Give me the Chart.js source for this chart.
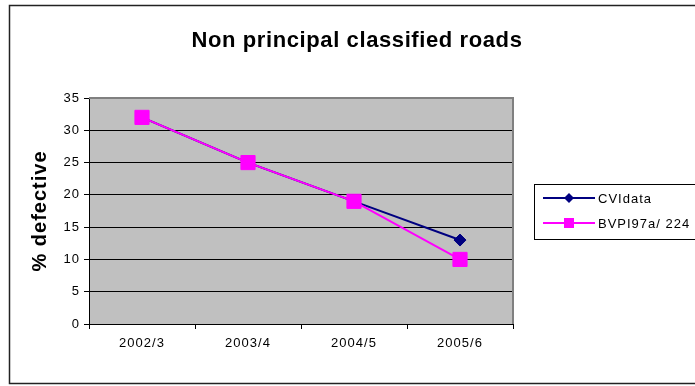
<!DOCTYPE html>
<html>
<head>
<meta charset="utf-8">
<script src="https://cdn.jsdelivr.net/npm/chart.js@4/dist/chart.umd.min.js"></script>
<style>
  html, body { margin: 0; padding: 0; background: #ffffff; }
  #wrap { width: 695px; height: 386px; position: relative; }
</style>
</head>
<body>
<div id="wrap"><canvas id="c" width="695" height="386"></canvas></div>
<script>
// Share of non principal classified roads found defective, by survey year
const categories = ['2002/3', '2003/4', '2004/5', '2005/6'];
const cviData = [32, 25, 19, 13];
const bvpiData = [32, 25, 19, 10];
const seriesNames = ['CVIdata', 'BVPI97a/ 224'];
const yTicks = [0, 5, 10, 15, 20, 25, 30, 35];

const chartTitle = 'Non principal classified roads';
const yTitle = '% defective';

const FONT = '"Liberation Sans", Arial, sans-serif';
const NAVY = '#000080';
const MAGENTA = '#FF00FF';

// Slightly spaced lettering for all canvas text
const spacing = {
  id: 'spacing',
  beforeLayout(chart) { chart.ctx.letterSpacing = '1px'; },
  beforeDraw(chart) { chart.ctx.letterSpacing = '1px'; }
};

// Grey plot background and outer frame
const frame = {
  id: 'frame',
  beforeDraw(chart) {
    const { ctx, chartArea: a } = chart;
    ctx.save();
    ctx.fillStyle = '#ffffff';
    ctx.fillRect(0, 0, chart.width, chart.height);
    ctx.fillStyle = '#C0C0C0';
    ctx.fillRect(a.left, a.top, a.right - a.left, a.bottom - a.top);
    ctx.strokeStyle = '#222222';
    ctx.lineWidth = 1.5;
    ctx.strokeRect(9.5, 5.5, chart.width + 10, 378);
    ctx.restore();
  },
  beforeDatasetsDraw(chart) {
    const { ctx, chartArea: a } = chart;
    ctx.save();
    ctx.strokeStyle = '#808080';
    ctx.lineWidth = 2;
    ctx.beginPath();
    ctx.moveTo(a.left, a.top);
    ctx.lineTo(a.right, a.top);
    ctx.lineTo(a.right, a.bottom);
    ctx.stroke();
    ctx.restore();
  },
  afterDraw(chart) {
    const { ctx } = chart;
    ctx.save();
    ctx.letterSpacing = '0.6px';
    ctx.fillStyle = '#000000';
    ctx.font = 'bold 22px ' + FONT;
    ctx.textAlign = 'center';
    ctx.textBaseline = 'middle';
    ctx.fillText(chartTitle, 357, 41);
    ctx.restore();
  }
};

// Boxed legend at the right of the plot
const boxLegend = {
  id: 'boxLegend',
  afterDraw(chart) {
    const { ctx } = chart;
    const x0 = 534, y0 = 184, h = 55;
    ctx.save();
    ctx.strokeStyle = '#000000';
    ctx.lineWidth = 1;
    ctx.strokeRect(x0 + 0.5, y0 + 0.5, chart.width, h);
    const rows = [198, 223];
    chart.data.datasets.forEach((ds, i) => {
      const y = rows[i];
      ctx.strokeStyle = ds.borderColor;
      ctx.lineWidth = 2;
      ctx.beginPath();
      ctx.moveTo(543, y);
      ctx.lineTo(595, y);
      ctx.stroke();
      ctx.fillStyle = ds.borderColor;
      const mx = 569;
      if (ds.pointStyle === 'rect') {
        ctx.fillRect(mx - 5, y - 5, 10, 10);
      } else {
        ctx.beginPath();
        ctx.moveTo(mx - 5, y);
        ctx.lineTo(mx, y - 5);
        ctx.lineTo(mx + 5, y);
        ctx.lineTo(mx, y + 5);
        ctx.closePath();
        ctx.fill();
      }
      ctx.letterSpacing = '1px';
      ctx.fillStyle = '#000000';
      ctx.font = '13px ' + FONT;
      ctx.textAlign = 'left';
      ctx.textBaseline = 'middle';
      ctx.fillText(ds.label, 598, y + 1);
    });
    ctx.restore();
  }
};

new Chart(document.getElementById('c'), {
  type: 'line',
  data: {
    labels: categories,
    datasets: [
      {
        label: seriesNames[0],
        data: cviData,
        borderColor: NAVY,
        backgroundColor: NAVY,
        borderWidth: 2,
        pointStyle: 'rectRot',
        pointRadius: 6,
        pointBorderWidth: 1,
        pointBorderColor: NAVY,
        pointBackgroundColor: NAVY,
        tension: 0,
        clip: false,
        order: 1
      },
      {
        label: seriesNames[1],
        data: bvpiData,
        borderColor: MAGENTA,
        backgroundColor: MAGENTA,
        borderWidth: 2,
        pointStyle: 'rect',
        pointRadius: 10,
        pointBorderWidth: 1,
        pointBorderColor: MAGENTA,
        pointBackgroundColor: MAGENTA,
        tension: 0,
        clip: false,
        order: 0
      }
    ]
  },
  options: {
    responsive: false,
    animation: false,
    events: [],
    layout: { padding: { left: 0, top: 98, right: 182, bottom: 0 } },
    plugins: {
      legend: { display: false },
      title: { display: false },
      tooltip: { enabled: false }
    },
    scales: {
      x: {
        offset: true,
        grid: {
          offset: true,
          display: true,
          drawOnChartArea: false,
          drawTicks: true,
          tickLength: 5,
          color: '#000000',
          tickColor: '#000000'
        },
        border: { display: true, color: '#000000', width: 1 },
        ticks: {
          color: '#000000',
          font: { family: FONT, size: 13 },
          padding: 7,
          maxRotation: 0
        },
        afterFit(scale) { scale.height = 62; }
      },
      y: {
        min: 0,
        max: 35,
        afterBuildTicks(scale) { scale.ticks = yTicks.map(v => ({ value: v })); },
        grid: {
          color: ctx => (ctx.tick && ctx.tick.value === 35 ? '#808080' : '#000000'),
          tickColor: '#000000',
          tickLength: 5,
          lineWidth: 1
        },
        border: { display: true, color: '#000000', width: 1 },
        ticks: {
          color: '#000000',
          font: { family: FONT, size: 13 },
          padding: 4
        },
        title: {
          display: true,
          text: yTitle,
          color: '#000000',
          font: { family: FONT, size: 20, weight: 'bold' },
          padding: { top: 28, bottom: 0 }
        },
        afterFit(scale) { scale.width = 89; }
      }
    }
  },
  plugins: [spacing, frame, boxLegend]
});
</script>
</body>
</html>
